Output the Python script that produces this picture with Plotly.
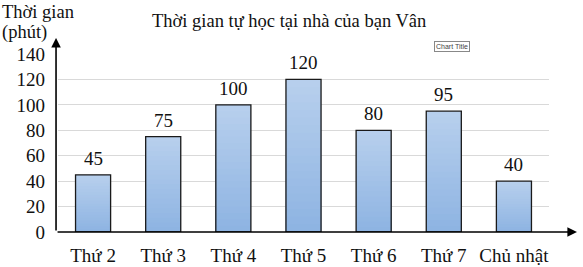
import plotly.graph_objects as go

days = ["Thứ 2", "Thứ 3", "Thứ 4", "Thứ 5", "Thứ 6", "Thứ 7", "Chủ nhật"]
minutes = [45, 75, 100, 120, 80, 95, 40]
y_ticks = [0, 20, 40, 60, 80, 100, 120, 140]

title_text = "Thời gian tự học tại nhà của bạn Vân"
y_title_1 = "Thời gian"
y_title_2 = "(phút)"

FONT = "Liberation Serif"
TOP_RGB = (184, 208, 237)
BOT_RGB = (141, 179, 226)
N_SEG = 20

fig = go.Figure()
# gradient fill: nested bars from the base, tallest (lightest) drawn first
for k in range(N_SEG):
    frac = (N_SEG - k) / N_SEG
    t = (N_SEG - k - 0.5) / N_SEG
    rgb = tuple(round(b + (a - b) * t) for a, b in zip(TOP_RGB, BOT_RGB))
    fig.add_trace(go.Bar(
        x=days, y=[v * frac for v in minutes],
        marker=dict(color="rgb(%d,%d,%d)" % rgb, line=dict(width=0)),
        width=0.5, hoverinfo="skip",
    ))
# outline
fig.add_trace(go.Bar(
    x=days, y=minutes,
    marker=dict(color="rgba(0,0,0,0)", line=dict(color="#1a1a1a", width=1.3)),
    width=0.5, hoverinfo="skip",
))

for d, v in zip(days, minutes):
    fig.add_annotation(x=d, y=v, text=str(v), showarrow=False,
                       yanchor="bottom", yshift=4,
                       font=dict(family=FONT, size=19, color="#111"))

# axis arrows
fig.add_annotation(xref="x domain", yref="y domain", x=-0.004, y=1.09,
                   ax=-0.004, ay=0, axref="x domain", ayref="y domain",
                   showarrow=True, arrowhead=2, arrowsize=1.2, arrowwidth=1.6,
                   arrowcolor="black", text="")
fig.add_annotation(xref="x domain", yref="y domain", x=1.057, y=0,
                   ax=-0.004, ay=0, axref="x domain", ayref="y domain",
                   showarrow=True, arrowhead=2, arrowsize=1.2, arrowwidth=1.6,
                   arrowcolor="black", text="")

# y axis title (two lines)
fig.add_annotation(xref="paper", yref="paper", x=-0.116, y=1.298,
                   xanchor="left", yanchor="top", align="left",
                   text=y_title_1, showarrow=False, borderpad=0,
                   font=dict(family=FONT, size=18.5, color="#111"))
fig.add_annotation(xref="paper", yref="paper", x=-0.116, y=1.058,
                   xanchor="left", yanchor="bottom", align="left",
                   text=y_title_2, showarrow=False, borderpad=0,
                   font=dict(family=FONT, size=18.5, color="#111"))

# chart title
fig.add_annotation(xref="paper", yref="paper", x=0.471, y=1.185,
                   xanchor="center", yanchor="middle",
                   text=title_text, showarrow=False,
                   font=dict(family=FONT, size=18.5, color="#111"))

# "Chart Title" tooltip
fig.add_annotation(xref="paper", yref="paper", x=0.766, y=1.04,
                   xanchor="left", yanchor="middle",
                   text="Chart Title", showarrow=False,
                   bordercolor="#888", borderwidth=1, borderpad=1,
                   bgcolor="white",
                   font=dict(family="Liberation Sans", size=7, color="#444"))

fig.update_layout(
    width=583, height=267,
    margin=dict(l=58, r=34, t=54, b=35),
    plot_bgcolor="white", paper_bgcolor="white",
    showlegend=False,
    barmode="overlay",
    bargap=0.5,
    font=dict(family=FONT, size=19, color="#111"),
    xaxis=dict(showgrid=False, showline=False, ticks="", automargin=False,
               tickfont=dict(family=FONT, size=19, color="#111"),
               ticklabelstandoff=10, fixedrange=True),
    yaxis=dict(range=[0, 140], tickvals=y_ticks, showgrid=True,
               gridcolor="#d9d9d9", gridwidth=1, zeroline=False,
               showline=False, ticks="", automargin=False,
               tickfont=dict(family=FONT, size=19, color="#111"),
               ticklabelstandoff=12, fixedrange=True),
)

fig.write_html("out.html")
